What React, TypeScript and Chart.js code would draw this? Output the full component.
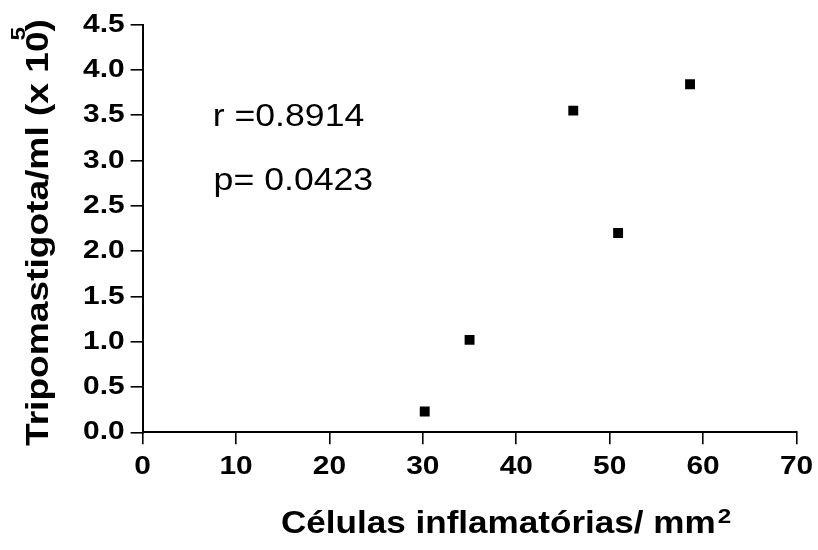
import React, { useEffect, useRef } from "react";
import { Chart, registerables } from "chart.js";

Chart.register(...registerables);

// ---- data ----
const cells = [30.2, 35.0, 46.1, 50.9, 58.6];
const tripo = [0.23, 1.02, 3.55, 2.2, 3.84];
const xTicks = [0, 10, 20, 30, 40, 50, 60, 70];
const yTicks = [0, 0.5, 1.0, 1.5, 2.0, 2.5, 3.0, 3.5, 4.0, 4.5];
const statLabels = ["r =0.8914", "p= 0.0423"];
const xTitle = "Células inflamatórias/ mm";
const xTitleSup = "2";
const yTitle = "Tripomastigota/ml (x 10";
const yTitleSup = "5";
const yTitleEnd = ")";

// ---- style / layout ----
const FONT = '"Liberation Sans", Arial, Helvetica, sans-serif';
const SX = 1.15; // horizontal glyph stretch of the reference lettering
const statPos = [
  { x: 7.5, y: 3.381 },
  { x: 7.6, y: 2.674 },
];

function stretchText(ctx: CanvasRenderingContext2D) {
  const anyCtx = ctx as any;
  if (anyCtx.__stretched) return;
  const orig = ctx.fillText.bind(ctx);
  anyCtx.__sx = SX;
  anyCtx.fillText = (text: string, x: number, y: number) => {
    ctx.save();
    ctx.translate(x, y);
    ctx.scale(anyCtx.__sx, 1);
    orig(text, 0, 0);
    ctx.restore();
  };
  anyCtx.__stretched = true;
}

const textPlugin = {
  id: "customTexts",
  afterDraw(chart: any) {
    const ctx: CanvasRenderingContext2D = chart.ctx;
    const anyCtx = ctx as any;
    const xs = chart.scales.x;
    const ys = chart.scales.y;
    ctx.save();
    ctx.fillStyle = "#000";
    ctx.textBaseline = "alphabetic";
    ctx.textAlign = "left";

    // statistics annotations
    ctx.font = `31px ${FONT}`;
    statLabels.forEach((t, i) => {
      ctx.fillText(t, xs.getPixelForValue(statPos[i].x), ys.getPixelForValue(statPos[i].y));
    });

    // x title with superscript
    const xl = 281;
    const xb = 533;
    ctx.font = `bold 30.5px ${FONT}`;
    ctx.fillText(xTitle, xl, xb);
    const xw = ctx.measureText(xTitle).width * SX;
    ctx.font = `bold 21px ${FONT}`;
    ctx.fillText(xTitleSup, xl + xw + 2, xb - 10);

    // y title rotated with superscript
    const ysx = 1.16;
    anyCtx.__sx = ysx;
    ctx.translate(48, 446);
    ctx.rotate(-Math.PI / 2);
    ctx.font = `bold 32px ${FONT}`;
    ctx.fillText(yTitle, 0, 0);
    const yw = ctx.measureText(yTitle).width * ysx;
    ctx.fillText(yTitleEnd, yw, 0);
    ctx.font = `bold 21px ${FONT}`;
    ctx.fillText(yTitleSup, yw - 9, -23);
    anyCtx.__sx = SX;
    ctx.restore();
  },
};

export default function App() {
  const ref = useRef<HTMLCanvasElement | null>(null);

  useEffect(() => {
    document.body.style.margin = "0";
    const canvas = ref.current;
    if (!canvas) return;
    const ctx = canvas.getContext("2d") as CanvasRenderingContext2D;
    stretchText(ctx);

    const tickFont = { family: FONT, size: 26, weight: "bold" as const };

    const chart = new Chart(canvas, {
      type: "scatter",
      data: {
        datasets: [
          {
            data: cells.map((x, i) => ({ x, y: tripo[i] })),
            pointStyle: "rect",
            pointRadius: 7,
            pointHoverRadius: 7,
            backgroundColor: "#000",
            borderColor: "#000",
            borderWidth: 0,
          },
        ],
      },
      options: {
        animation: false,
        responsive: false,
        maintainAspectRatio: false,
        events: [],
        layout: { padding: { left: 0, right: 20.5, top: 24.5, bottom: 0 } },
        plugins: {
          legend: { display: false },
          tooltip: { enabled: false },
          title: { display: false },
        },
        scales: {
          x: {
            type: "linear",
            min: xTicks[0],
            max: xTicks[xTicks.length - 1],
            afterBuildTicks: (scale: any) => {
              scale.ticks = xTicks.map((v) => ({ value: v }));
            },
            afterFit: (scale: any) => {
              scale.height = 550 - 432.3;
            },
            ticks: {
              color: "#000",
              font: tickFont,
              padding: 7,
              maxRotation: 0,
              autoSkip: false,
              callback: (v: any) => String(v),
            },
            grid: {
              display: true,
              drawOnChartArea: false,
              drawTicks: true,
              tickLength: 12,
              tickColor: "#000",
              lineWidth: 1.6,
            },
            border: { display: true, color: "#000", width: 2 },
          },
          y: {
            type: "linear",
            min: yTicks[0],
            max: yTicks[yTicks.length - 1],
            afterBuildTicks: (scale: any) => {
              scale.ticks = yTicks.map((v) => ({ value: v }));
            },
            afterFit: (scale: any) => {
              scale.width = 142.6;
            },
            ticks: {
              color: "#000",
              font: tickFont,
              padding: 6,
              autoSkip: false,
              callback: (v: any) => Number(v).toFixed(1),
            },
            grid: {
              display: true,
              drawOnChartArea: false,
              drawTicks: true,
              tickLength: 12,
              tickColor: "#000",
              lineWidth: 1.6,
            },
            border: { display: true, color: "#000", width: 2 },
          },
        },
      },
      plugins: [textPlugin],
    } as any);

    return () => {
      chart.destroy();
    };
  }, []);

  return (
    <div style={{ position: "absolute", left: 0, top: 0, width: 818, height: 550, background: "#fff" }}>
      <canvas ref={ref} width={818} height={550} style={{ width: 818, height: 550, display: "block" }} />
    </div>
  );
}
